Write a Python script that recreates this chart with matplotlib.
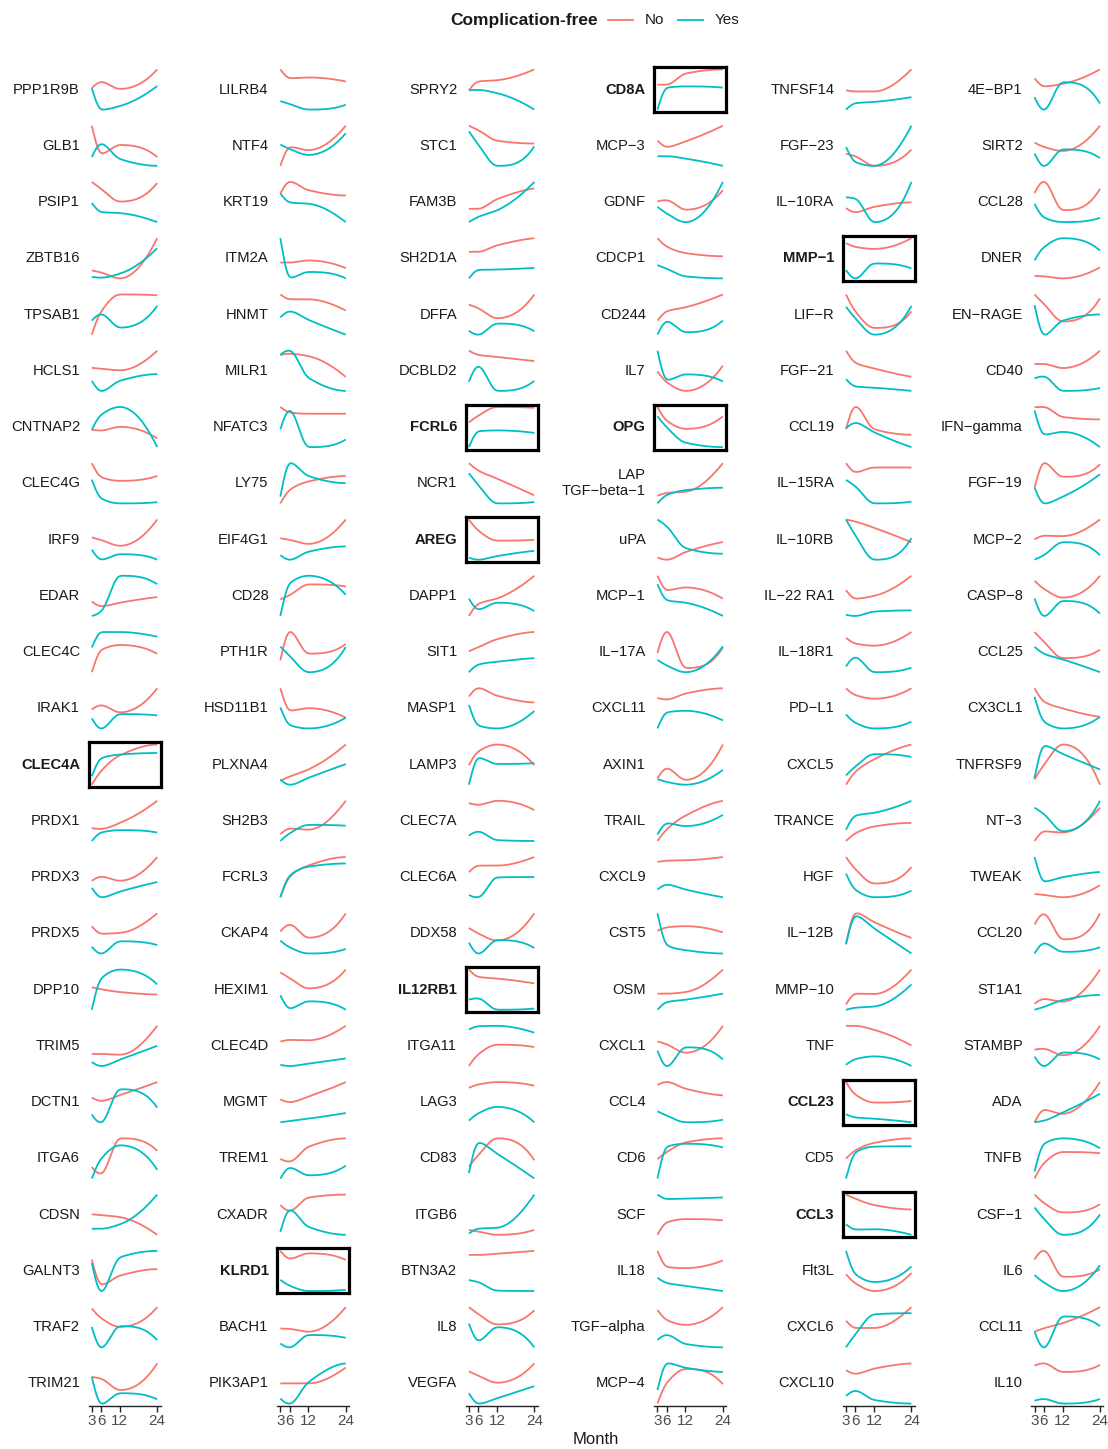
import numpy as np
import matplotlib
matplotlib.use('Agg')
import matplotlib.pyplot as plt
from matplotlib.lines import Line2D

plt.rcParams['font.family'] = ['Liberation Sans', 'DejaVu Sans']

# ---------------- data ----------------
months = [3, 6, 12, 24]
month_labels = ['3', '6', '12', '24']

genes = [
    # column 1
    'PPP1R9B', 'GLB1', 'PSIP1', 'ZBTB16', 'TPSAB1', 'HCLS1', 'CNTNAP2', 'CLEC4G',
    'IRF9', 'EDAR', 'CLEC4C', 'IRAK1', 'CLEC4A', 'PRDX1', 'PRDX3', 'PRDX5',
    'DPP10', 'TRIM5', 'DCTN1', 'ITGA6', 'CDSN', 'GALNT3', 'TRAF2', 'TRIM21',
    # column 2
    'LILRB4', 'NTF4', 'KRT19', 'ITM2A', 'HNMT', 'MILR1', 'NFATC3', 'LY75',
    'EIF4G1', 'CD28', 'PTH1R', 'HSD11B1', 'PLXNA4', 'SH2B3', 'FCRL3', 'CKAP4',
    'HEXIM1', 'CLEC4D', 'MGMT', 'TREM1', 'CXADR', 'KLRD1', 'BACH1', 'PIK3AP1',
    # column 3
    'SPRY2', 'STC1', 'FAM3B', 'SH2D1A', 'DFFA', 'DCBLD2', 'FCRL6', 'NCR1',
    'AREG', 'DAPP1', 'SIT1', 'MASP1', 'LAMP3', 'CLEC7A', 'CLEC6A', 'DDX58',
    'IL12RB1', 'ITGA11', 'LAG3', 'CD83', 'ITGB6', 'BTN3A2', 'IL8', 'VEGFA',
    # column 4
    'CD8A', 'MCP−3', 'GDNF', 'CDCP1', 'CD244', 'IL7', 'OPG', 'LAP\nTGF−beta−1',
    'uPA', 'MCP−1', 'IL−17A', 'CXCL11', 'AXIN1', 'TRAIL', 'CXCL9', 'CST5',
    'OSM', 'CXCL1', 'CCL4', 'CD6', 'SCF', 'IL18', 'TGF−alpha', 'MCP−4',
    # column 5
    'TNFSF14', 'FGF−23', 'IL−10RA', 'MMP−1', 'LIF−R', 'FGF−21', 'CCL19', 'IL−15RA',
    'IL−10RB', 'IL−22 RA1', 'IL−18R1', 'PD−L1', 'CXCL5', 'TRANCE', 'HGF', 'IL−12B',
    'MMP−10', 'TNF', 'CCL23', 'CD5', 'CCL3', 'Flt3L', 'CXCL6', 'CXCL10',
    # column 6
    '4E−BP1', 'SIRT2', 'CCL28', 'DNER', 'EN−RAGE', 'CD40', 'IFN−gamma', 'FGF−19',
    'MCP−2', 'CASP−8', 'CCL25', 'CX3CL1', 'TNFRSF9', 'NT−3', 'TWEAK', 'CCL20',
    'ST1A1', 'STAMBP', 'ADA', 'TNFB', 'CSF−1', 'IL6', 'CCL11', 'IL10',
]

highlighted = ['CD8A', 'MMP−1', 'FCRL6', 'OPG', 'AREG', 'CLEC4A',
               'IL12RB1', 'KLRD1', 'CCL23', 'CCL3']

# relative levels at months 3, 6, 12, 24 (Complication-free = No)
no_values = [
    [5.5, 7.0, 5.3, 10], [10, 3.0, 5.2, 2.2], [10, 8.25, 5.1, 9.75], [2.0, 1.5, 0, 10],
    [0, 5.3, 9.2, 9.0], [5.9, 5.7, 5.3, 10], [4.2, 4.0, 4.9, 2.1], [10, 6.6, 5.7, 6.9],
    [5.7, 5.1, 3.7, 10], [3.6, 2.4, 3.3, 4.7], [0, 5.3, 6.5, 4.4], [5.0, 6.0, 4.3, 10],
    [0, 3.4, 7.3, 10], [3.2, 3.0, 4.5, 10], [4.3, 5.3, 4.3, 10], [6.9, 5.1, 5.3, 10],
    [5.6, 5.1, 4.4, 3.8], [3.1, 3.1, 2.9, 10], [6.3, 5.5, 6.9, 10], [2.5, 1.0, 8.7, 6.0],
    [5.1, 4.9, 4.4, 0], [8.0, 2.2, 4.3, 5.8], [9.7, 7.5, 5.5, 10], [6.9, 6.5, 3.9, 10],

    [10, 7.8, 8.0, 7.0], [0, 4.7, 3.9, 10], [7.0, 9.9, 7.8, 6.5], [4.3, 4.3, 4.8, 3.0],
    [10, 8.8, 8.8, 6.0], [8.8, 9.1, 8.5, 3.4], [10, 8.7, 8.4, 8.4], [0, 3.2, 5.2, 6.5],
    [5.4, 5.0, 4.0, 10], [4.0, 5.0, 7.6, 7.1], [3.0, 9.6, 4.5, 6.7], [10, 4.6, 5.2, 2.9],
    [1.3, 2.3, 4.0, 10], [1.7, 3.1, 2.8, 10], [0, 5.1, 7.9, 10], [5.6, 7.3, 4.1, 10],
    [9.3, 7.9, 5.3, 10], [6.1, 6.5, 6.4, 10], [5.7, 5.0, 6.4, 10], [4.9, 4.2, 7.9, 10],
    [7.1, 5.7, 8.9, 9.6], [10, 8.1, 9.4, 7.8], [4.7, 4.6, 3.9, 10], [5.2, 5.2, 5.2, 9.0],

    [4.8, 7.0, 7.3, 10], [10, 8.9, 6.3, 5.6], [3.3, 3.3, 5.7, 8.4], [6.6, 6.6, 8.2, 10],
    [7.5, 6.6, 4.1, 10], [10, 9.0, 8.5, 7.5], [5.9, 7.5, 9.6, 9.4], [10, 8.4, 6.6, 2.9],
    [10, 7.3, 4.8, 5.0], [0, 3.0, 4.3, 10], [5.2, 6.2, 8.2, 10], [8.0, 10, 8.2, 6.6],
    [4.7, 8.0, 9.7, 4.7], [9.3, 8.9, 9.9, 7.6], [6.3, 7.9, 7.9, 10], [6.5, 5.2, 3.5, 10],
    [10, 8.2, 7.8, 6.6], [0, 2.9, 5.3, 4.7], [8.5, 9.3, 9.9, 9.0], [2.9, 5.6, 9.7, 4.4],
    [1.4, 1.0, 0.2, 1.4], [8.9, 8.9, 9.2, 9.9], [10, 8.3, 5.7, 9.2], [8.1, 7.1, 5.4, 10],

    [6.0, 6.0, 8.7, 9.7], [6.3, 4.7, 6.1, 10], [5.3, 5.6, 3.3, 8.0], [10, 7.9, 6.3, 5.5],
    [3.5, 5.8, 6.8, 10], [5.0, 2.4, 0.3, 6.4], [10, 6.6, 4.6, 7.7], [1.9, 2.6, 2.9, 10],
    [0.6, 0, 1.9, 4.4], [10, 6.4, 7.1, 4.3], [4.5, 9.7, 1.0, 5.8], [7.6, 7.2, 8.7, 10],
    [1.6, 4.1, 1.2, 10], [0, 2.9, 6.3, 10], [8.7, 9.0, 9.1, 9.9], [5.8, 6.6, 6.9, 5.4],
    [4.0, 4.0, 4.4, 10], [6.3, 5.6, 3.6, 10], [9.2, 9.9, 8.3, 6.7], [4.7, 6.4, 8.7, 9.7],
    [0, 3.1, 3.9, 3.6], [10, 6.0, 5.7, 7.6], [9.3, 6.9, 5.7, 10], [0, 4.9, 8.2, 4.6],

    [4.8, 4.5, 4.5, 10], [3.3, 2.7, 0.4, 4.3], [3.7, 2.7, 4.0, 5.1], [8.8, 7.9, 7.4, 10],
    [10, 6.0, 2.1, 6.0], [10, 7.0, 5.6, 3.5], [4.2, 9.6, 4.2, 2.9], [10, 7.9, 9.0, 9.0],
    [10, 9.5, 8.0, 4.5], [6.4, 4.3, 5.0, 10], [8.6, 7.2, 6.7, 10], [10, 8.3, 7.4, 10],
    [0, 3.2, 6.3, 10], [0, 1.9, 3.6, 4.5], [10, 7.1, 3.6, 7.6], [2.2, 9.7, 7.5, 3.7],
    [1.3, 4.0, 3.9, 10], [10, 10, 9.0, 5.1], [10, 6.9, 4.9, 5.3], [4.8, 6.8, 8.6, 9.7],
    [10, 9.0, 7.4, 6.3], [4.6, 2.5, 0.7, 4.9], [6.6, 4.8, 4.8, 10], [8.3, 7.4, 8.7, 10],

    [7.9, 6.0, 6.6, 10], [5.9, 4.9, 3.9, 10], [7.1, 9.9, 3.1, 8.1], [0.6, 0.5, 0, 2.7],
    [10, 7.9, 3.9, 9.1], [6.8, 6.8, 5.8, 10], [9.9, 10, 7.5, 6.9], [4.0, 9.8, 6.5, 9.4],
    [5.1, 6.0, 5.9, 10], [8.8, 6.9, 4.8, 10], [10, 7.6, 3.5, 5.6], [10, 6.7, 5.0, 2.9],
    [1.3, 4.8, 9.8, 0], [0, 2.4, 2.1, 8.3], [0.8, 0.6, 0, 3.0], [7.0, 9.6, 3.4, 9.7],
    [1.5, 2.7, 2.0, 10], [4.2, 4.4, 2.8, 10], [0, 3.1, 2.1, 10], [0, 3.7, 6.4, 6.1],
    [10, 8.0, 5.7, 7.7], [7.6, 9.7, 3.6, 5.3], [4.2, 5.0, 6.2, 10], [9.1, 9.7, 7.6, 9.3],
]

# relative levels at months 3, 6, 12, 24 (Complication-free = Yes)
yes_values = [
    [5.5, 0.3, 1.2, 6.0], [2.2, 5.5, 1.7, 0], [4.75, 2.5, 2.25, 0], [0.4, 0.2, 1.2, 7.5],
    [3.2, 4.7, 1.6, 6.6], [2.8, 0.3, 2.8, 4.4], [4.2, 7.8, 9.7, 0], [6.0, 1.4, 0.2, 0.5],
    [2.8, 0.4, 1.7, 0.4], [0, 1.1, 10, 7.9], [5.9, 9.6, 9.6, 8.5], [2.9, 0.4, 3.9, 3.6],
    [2.1, 6.6, 7.5, 7.9], [0, 2.1, 2.7, 2.1], [2.6, 0.3, 1.7, 4.0], [2.0, 0.3, 3.3, 2.4],
    [0, 7.8, 10, 6.3], [1.1, 0.1, 1.7, 5.1], [2.3, 0.3, 8.3, 3.9], [0, 4.3, 7.2, 1.9],
    [1.5, 1.5, 2.6, 10], [7.2, 0.5, 8.5, 10], [5.5, 0.7, 5.7, 2.5], [6.9, 0.7, 3.2, 1.8],

    [2.1, 1.4, 0, 1.2], [5.3, 4.2, 2.7, 8.1], [7.0, 4.8, 4.5, 0], [10, 0.7, 2.1, 0.6],
    [4.3, 5.8, 3.7, 0], [8.8, 9.9, 3.2, 0], [4.7, 9.3, 0.5, 2.3], [1.6, 9.7, 6.5, 4.8],
    [1.25, 0.1, 2.1, 3.4], [0, 7.9, 9.7, 5.1], [6.1, 4.0, 0.3, 6.0], [5.4, 1.1, 0.3, 2.9],
    [1.6, 0.3, 2.0, 5.3], [0, 1.9, 4.0, 3.8], [0, 5.4, 7.6, 8.4], [3.4, 1.8, 0.3, 1.4],
    [3.6, 0.3, 2.1, 0], [0.3, 0, 0.6, 1.9], [0, 0.3, 0.9, 2.3], [0, 2.7, 0.8, 3.2],
    [0.7, 6.0, 1.9, 0], [3.0, 1.6, 0.3, 0.6], [1.0, 0, 3.1, 2.4], [1.6, 0.3, 5.5, 10],

    [4.8, 4.9, 4.1, 0], [8.6, 5.4, 0.1, 4.9], [0, 1.3, 2.9, 10], [0, 2.1, 2.2, 2.6],
    [1.0, 0, 2.8, 0.9], [2.5, 6.3, 0.3, 2.7], [0, 3.8, 4.0, 3.4], [7.8, 5.2, 1.1, 1.4],
    [0.6, 0.1, 1.0, 2.3], [4.3, 1.6, 3.3, 1.2], [0, 1.9, 2.6, 3.5], [6.0, 1.2, 0.5, 4.6],
    [0, 6.5, 5.0, 5.2], [1.4, 2.4, 0.3, 0.1], [0.7, 0.1, 5.0, 5.1], [3.0, 0.3, 3.6, 1.7],
    [2.6, 2.9, 0.1, 0.4], [9.1, 9.9, 10, 8.3], [0.4, 2.2, 3.8, 0], [1.3, 8.7, 6.0, 0],
    [0.5, 1.7, 1.9, 10], [2.7, 2.2, 0.1, 0], [5.9, 1.6, 5.0, 0], [2.9, 0.4, 1.7, 4.6],

    [0, 5.3, 5.6, 5.3], [2.4, 2.4, 1.8, 0], [4.0, 2.4, 0.3, 10], [3.3, 2.4, 0.5, 0],
    [0, 3.3, 0.6, 3.5], [10, 2.9, 4.3, 2.6], [7.7, 5.0, 1.2, 0.1], [0, 2.1, 3.3, 3.9],
    [10, 8.3, 2.9, 1.5], [7.9, 3.9, 3.3, 0], [2.9, 1.6, 0, 6.1], [0, 4.0, 4.4, 2.0],
    [1.4, 0.7, 0, 3.7], [1.6, 4.4, 3.7, 6.5], [1.9, 3.1, 1.9, 0], [10, 2.3, 1.1, 0.3],
    [0, 1.9, 2.5, 4.0], [4.1, 0.3, 4.9, 2.0], [2.9, 1.9, 0.3, 0.9], [0, 7.7, 8.4, 7.5],
    [10, 8.9, 9.0, 9.3], [3.3, 2.0, 1.3, 0], [2.1, 3.3, 1.1, 0.3], [3.2, 9.6, 8.5, 7.5],

    [0, 1.6, 1.9, 3.1], [4.9, 1.3, 0.4, 10], [6.3, 6.0, 0.3, 10], [2.3, 0.2, 3.9, 2.7],
    [7.1, 4.4, 0.5, 7.3], [2.9, 1.1, 0.8, 0], [4.4, 5.7, 3.5, 0], [6.1, 4.6, 0.6, 1.0],
    [10, 6.2, 0.3, 5.5], [0.3, 0, 1.1, 1.4], [1.7, 3.9, 0.3, 1.4], [3.5, 1.4, 0, 1.7],
    [2.3, 4.5, 7.6, 6.9], [2.8, 6.3, 7.0, 10], [6.0, 2.1, 0.3, 1.9], [2.2, 9.0, 6.0, 0],
    [0, 0.5, 0.8, 6.3], [0.3, 1.7, 2.4, 0], [2.0, 1.2, 0.9, 0], [0, 6.3, 7.7, 7.8],
    [2.6, 1.3, 1.4, 0], [10, 4.6, 2.8, 6.4], [0, 3.2, 8.2, 8.5], [1.9, 3.2, 0.9, 0],

    [3.5, 0.4, 7.0, 2.0], [3.3, 0.2, 4.3, 2.2], [4.6, 1.4, 0.3, 1.3], [4.4, 7.6, 9.8, 6.8],
    [7.6, 0.8, 4.1, 5.5], [3.3, 3.8, 0.3, 1.0], [9.1, 3.1, 3.8, 0], [4.0, 0.3, 1.9, 7.1],
    [0.1, 1.2, 4.4, 1.2], [4.6, 0.3, 4.0, 1.0], [6.3, 4.6, 3.2, 0], [7.9, 1.7, 0, 2.9],
    [1.6, 9.5, 7.5, 3.7], [8.3, 6.7, 2.4, 10], [10, 3.9, 5.0, 6.3], [0, 2.5, 0.4, 1.5],
    [0, 0.7, 2.4, 3.7], [2.5, 0.1, 3.5, 1.8], [0, 0.4, 2.4, 7.1], [1.7, 8.4, 9.7, 7.3],
    [6.9, 4.2, 0.3, 5.2], [4.0, 2.3, 0.3, 6.3], [4.2, 0.3, 7.8, 5.5], [0.7, 1.1, 0, 1.1],
]

groups = ['No', 'Yes']
group_colors = {'No': '#F8766D', 'Yes': '#00BFC4'}


def pchip(x, y, xs):
    """Shape-preserving piecewise cubic Hermite curve through the points."""
    x = np.asarray(x, float)
    y = np.asarray(y, float)
    n = len(x)
    h = np.diff(x)
    delta = np.diff(y) / h
    d = np.zeros(n)
    for k in range(1, n - 1):
        if delta[k - 1] * delta[k] > 0:
            w1 = 2 * h[k] + h[k - 1]
            w2 = h[k] + 2 * h[k - 1]
            d[k] = (w1 + w2) / (w1 / delta[k - 1] + w2 / delta[k])

    def end_slope(h0, h1, m0, m1):
        s = ((2 * h0 + h1) * m0 - h0 * m1) / (h0 + h1)
        if np.sign(s) != np.sign(m0):
            s = 0.0
        elif np.sign(m0) != np.sign(m1) and abs(s) > abs(3 * m0):
            s = 3 * m0
        return s

    d[0] = end_slope(h[0], h[1], delta[0], delta[1])
    d[-1] = end_slope(h[-1], h[-2], delta[-1], delta[-2])
    idx = np.clip(np.searchsorted(x, xs) - 1, 0, n - 2)
    hh = h[idx]
    t = (xs - x[idx]) / hh
    h00 = 2 * t ** 3 - 3 * t ** 2 + 1
    h10 = t ** 3 - 2 * t ** 2 + t
    h01 = -2 * t ** 3 + 3 * t ** 2
    h11 = t ** 3 - t ** 2
    return h00 * y[idx] + h10 * hh * d[idx] + h01 * y[idx + 1] + h11 * hh * d[idx + 1]


def smooth_curve(x, y, step=0.05, sigma=0.6):
    """Draw-time rounding of the curve's corners (light Gaussian smoothing)."""
    xs = np.arange(x[0], x[-1] + step / 2, step)
    ys = pchip(x, y, xs)
    s = sigma / step
    npad = int(4 * s)
    left = 2 * ys[0] - ys[1:npad + 1][::-1]
    right = 2 * ys[-1] - ys[-npad - 1:-1][::-1]
    ext = np.concatenate([left, ys, right])
    kx = np.arange(-npad, npad + 1)
    kern = np.exp(-0.5 * (kx / s) ** 2)
    kern /= kern.sum()
    sm = np.convolve(ext, kern, mode='valid')
    return xs, sm


# ---------------- layout ----------------
W, H = 1108, 1449
fig = plt.figure(figsize=(W / 100, H / 100), dpi=100)
fig.patch.set_facecolor('white')

n_rows, n_cols = 24, 6
panel_w, panel_h = 72.0, 45.0
left0, col_step = 88.5, 188.55
center0, row_step = 89.5, 56.26

for k, gene in enumerate(genes):
    c, r = divmod(k, n_rows)
    left = left0 + c * col_step
    cy = center0 + r * row_step
    top = cy - panel_h / 2
    ax = fig.add_axes([left / W, 1 - (top + panel_h) / H, panel_w / W, panel_h / H])
    ax.set_facecolor('none')
    for g, vals in zip(groups, [no_values[k], yes_values[k]]):
        cx, cyv = smooth_curve(months, vals)
        ax.plot(cx, cyv, color=group_colors[g], lw=1.3, solid_capstyle='butt')
    ax.set_xlim(months[0] - 1.05, months[-1] + 1.05)
    ax.margins(y=0.06)
    ax.set_yticks([])
    for s in ax.spines.values():
        s.set_visible(False)
    bold = gene in highlighted
    if bold:
        for s in ax.spines.values():
            s.set_visible(True)
            s.set_linewidth(2.3)
            s.set_color('black')
    if r == n_rows - 1:
        ax.spines['bottom'].set_visible(True)
        ax.spines['bottom'].set_color('#222222')
        ax.spines['bottom'].set_linewidth(1.0)
        ax.set_xticks(months)
        ax.set_xticklabels(month_labels)
        ax.tick_params(axis='x', length=4, width=1.0, color='#222222',
                       labelsize=11, labelcolor='#4D4D4D', pad=1.5)
    else:
        ax.set_xticks([])
    fig.text((left - 8.5) / W, 1 - cy / H, gene, ha='right', va='center',
             ma='right', fontsize=10.6, color='#1A1A1A',
             fontweight='bold' if bold else 'normal', linespacing=1.15)

# x-axis title
fig.text((left0 + 5 * col_step + panel_w + left0) / 2 / W, 1 - 1440 / H, 'Month',
         ha='center', va='center', fontsize=12, color='#1A1A1A')

# legend
ly = 1 - 20 / H
fig.text(450 / W, ly, 'Complication-free', ha='left', va='center',
         fontsize=12.5, fontweight='bold', color='#1A1A1A')
fig.add_artist(Line2D([608 / W, 633 / W], [ly, ly], color=group_colors['No'], lw=1.3))
fig.text(645 / W, ly, 'No', ha='left', va='center', fontsize=11, color='#1A1A1A')
fig.add_artist(Line2D([678 / W, 703 / W], [ly, ly], color=group_colors['Yes'], lw=1.3))
fig.text(715 / W, ly, 'Yes', ha='left', va='center', fontsize=11, color='#1A1A1A')

fig.savefig('out.png', dpi=100, facecolor='white')
